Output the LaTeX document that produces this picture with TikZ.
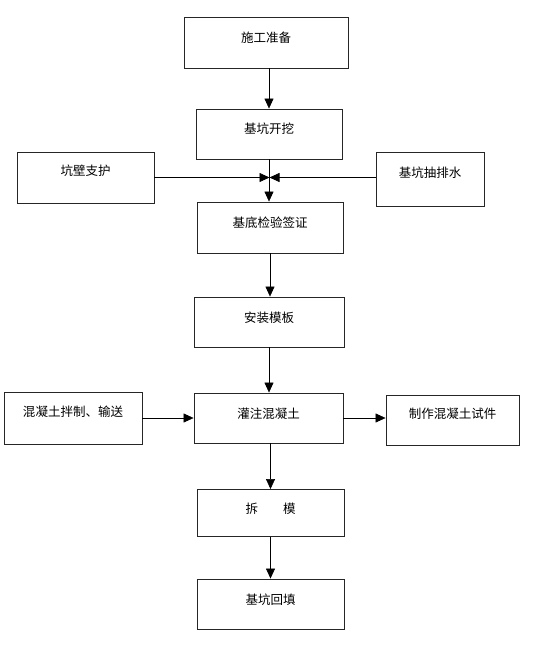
\documentclass[tikz,border=0pt]{standalone}
\usepackage{fontspec}
\setmainfont{Noto Sans CJK SC}
\usetikzlibrary{arrows.meta, positioning}

\begin{document}
\begin{tikzpicture}[
    x=1pt, y=-1pt,
    box/.style={rectangle, draw=black!85, line width=0.9pt, inner sep=0pt, align=center, font=\fontsize{12.5}{14}\selectfont, text height=8pt, text depth=8pt},
    sidebox/.style={box, text height=6pt, text depth=10pt},
    arrow/.style={-{Triangle[length=10pt, width=9pt]}, line width=0.6pt}
]
    \useasboundingbox (0,0) rectangle (554,650);

    % Main column
    \node[box, minimum width=164pt, minimum height=51pt] (prep) at (266,42.5) {施工准备};
    \node[box, minimum width=146pt, minimum height=50pt] (dig) at (269,134) {基坑开挖};
    \node[box, minimum width=146pt, minimum height=51pt] (check) at (270,227.5) {基底检验签证};
    \node[box, minimum width=150pt, minimum height=50pt] (form) at (269,322) {安装模板};
    \node[box, minimum width=149pt, minimum height=50pt] (pour) at (268.5,418) {灌注混凝土};
    \node[box, minimum width=147pt, minimum height=47pt] (strip) at (270.5,513) {拆\hspace{2em}模};
    \node[box, minimum width=147pt, minimum height=50pt] (fill) at (270.5,604) {基坑回填};

    % Side boxes
    \node[sidebox, minimum width=137pt, minimum height=51pt] (wall) at (85.5,177.5) {坑壁支护};
    \node[sidebox, minimum width=108pt, minimum height=54pt] (drain) at (430,179) {基坑抽排水};
    \node[sidebox, minimum width=138pt, minimum height=52pt] (mix) at (73,418) {混凝土拌制、输送};
    \node[sidebox, minimum width=133pt, minimum height=50pt] (sample) at (452.5,420) {制作混凝土试件};

    \coordinate (meet) at (269.5,177.5);

    % Arrows
    \draw[arrow] (dig.north |- prep.south) -- (dig.north);
    \draw[arrow] (dig.south) -- (dig.south |- check.north);
    \draw[arrow] (wall.east) -- (meet);
    \draw[arrow] (drain.west |- meet) -- (meet);
    \draw[arrow] (check.south) -- (check.south |- form.north);
    \draw[arrow] (form.south) -- (form.south |- pour.north);
    \draw[arrow] (mix.east) -- (mix.east -| pour.west);
    \draw[arrow] (pour.east) -- (pour.east -| sample.west);
    \draw[arrow] (strip.north |- pour.south) -- (strip.north);
    \draw[arrow] (strip.south) -- (strip.south |- fill.north);
\end{tikzpicture}
\end{document}
